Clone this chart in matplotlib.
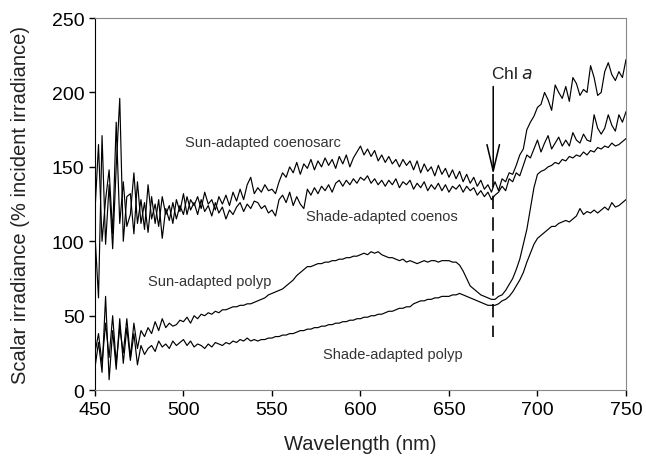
# Scalar irradiance spectra of sun- and shade-adapted coral tissue

import numpy as np
import matplotlib
matplotlib.use('Agg')
import matplotlib.pyplot as plt

plt.rcParams['font.family'] = ['Liberation Sans', 'DejaVu Sans']

# wavelength grid (nm), 2 nm steps
wavelength = np.arange(450, 751, 2)

# Sun-adapted coenosarc (% incident irradiance), one row per 10 nm
sun_coenosarc = [
    120, 165, 100, 128, 148, 105, 180, 112, 140, 110,   # 450-468
    118, 146, 112, 128, 108, 138, 115, 125, 110, 130,   # 470-488
    118, 124, 112, 128, 120, 132, 118, 128, 124, 130,   # 490-508
    122, 133, 125, 128, 121, 130, 125, 131, 124, 133,   # 510-528
    127, 135, 128, 138, 143, 132,                       # 530-540
    136, 133, 138, 134, 135, 132, 140, 146, 143, 150,   # 542-560
    146, 153, 145, 152, 149, 155, 148, 154, 150, 156,   # 562-580
    151, 155, 149, 157, 152, 158, 150, 156, 160, 164,   # 582-600
    158, 162, 157, 161, 154, 158, 153, 157, 152, 155,   # 602-620
    150, 155, 151, 154, 148, 154, 146, 152, 147, 150,   # 622-640
    144, 151, 145, 149, 143, 148, 142, 147, 140, 145,   # 642-660
    139, 143, 137, 141, 135, 138, 133, 140, 134, 142,   # 662-680
    140, 146, 145, 151, 158, 162, 175, 180, 184, 190,   # 682-700
    192, 200, 195, 188, 205, 200, 196, 204, 194, 210,   # 702-720
    206, 198, 202, 200, 218, 210, 198, 200, 214, 220,   # 722-740
    212, 208, 214, 210, 222,                            # 742-750
]

# Shade-adapted coenosarc
shade_coenosarc = [
    105, 62, 171, 98, 138, 95, 150, 196, 100, 130,      # 450-468
    132, 105, 140, 112, 126, 106, 130, 112, 128, 102,   # 470-488
    122, 114, 126, 115, 124, 118, 130, 121, 126, 118,   # 490-508
    128, 120, 124, 117, 126, 119, 123, 115, 121, 118,   # 510-528
    123, 126, 120, 125, 122, 127,                       # 530-540
    126, 122, 124, 119, 121, 117, 128, 131, 126, 133,   # 542-560
    124, 130, 125, 122, 135, 131, 136, 132, 137, 134,   # 562-580
    138, 133, 139, 141, 137, 141, 138, 142, 139, 143,   # 582-600
    141, 144, 139, 142, 138, 141, 137, 141, 138, 142,   # 602-620
    136, 140, 138, 141, 135, 139, 136, 140, 134, 138,   # 622-640
    135, 139, 134, 138, 133, 137, 135, 138, 133, 137,   # 642-660
    134, 136, 131, 134, 130, 133, 128, 131, 133, 137,   # 662-680
    134, 142, 140, 146, 144, 151, 158, 156, 162, 168,   # 682-700
    160, 166, 171, 162, 166, 170, 164, 168, 164, 173,   # 702-720
    168, 166, 172, 168, 167, 185, 176, 172, 176, 185,   # 722-740
    178, 174, 185, 180, 187,                            # 742-750
]

# Sun-adapted polyp
sun_polyp = [
    25, 38, 18, 45, 22, 50, 18, 42, 25, 48,             # 450-468
    22, 45, 28, 40, 36, 42, 38, 46, 40, 48,             # 470-488
    42, 45, 43, 44, 47, 46, 49, 45, 50, 48,             # 490-508
    51, 50, 52, 51, 53, 52, 54, 54, 55, 56,             # 510-528
    56, 57, 57, 58, 58, 59,                             # 530-540
    60, 61, 62, 64, 65, 66, 67, 68, 70, 72,             # 542-560
    74, 77, 79, 81, 83, 83, 84, 85, 85, 86,             # 562-580
    86, 87, 87, 88, 88, 89, 89, 90, 90, 91,             # 582-600
    92, 91, 93, 92, 93, 91, 90, 89, 89, 88,             # 602-620
    87, 88, 86, 87, 86, 85, 86, 87, 86, 87,             # 622-640
    87, 86, 87, 87, 87, 86, 86, 84, 80, 75,             # 642-660
    70, 68, 66, 64, 63, 62, 61, 61, 63, 64,             # 662-680
    67, 71, 75, 81, 88, 98, 108, 122, 136, 145,         # 682-700
    147, 148, 150, 151, 153, 152, 155, 154, 157, 156,   # 702-720
    158, 157, 160, 158, 161, 160, 163, 162, 164, 163,   # 722-740
    166, 164, 165, 167, 169,                            # 742-750
]

# Shade-adapted polyp
shade_polyp = [
    15, 32, 12, 63, 7, 40, 14, 48, 18, 42,              # 450-468
    20, 38, 17, 30, 24, 28, 30, 26, 33, 29,             # 470-488
    31, 28, 33, 30, 32, 34, 30, 33, 29, 31,             # 490-508
    30, 28, 31, 29, 32, 31, 30, 32, 31, 33,             # 510-528
    32, 34, 33, 35, 33, 34,                             # 530-540
    33, 34, 34, 35, 35, 36, 36, 37, 37, 38,             # 542-560
    38, 39, 40, 40, 41, 41, 42, 42, 43, 43,             # 562-580
    44, 44, 45, 45, 46, 46, 47, 47, 48, 48,             # 582-600
    49, 49, 50, 50, 51, 51, 52, 53, 53, 54,             # 602-620
    55, 55, 56, 56, 58, 59, 60, 60, 61, 61,             # 622-640
    62, 62, 63, 63, 63, 64, 64, 65, 64, 63,             # 642-660
    62, 61, 60, 59, 58, 57, 57, 57, 58, 60,             # 662-680
    61, 63, 66, 70, 74, 79, 86, 92, 98, 102,            # 682-700
    104, 106, 108, 110, 110, 112, 113, 114, 113, 115,   # 702-720
    117, 122, 118, 120, 119, 121, 119, 121, 123, 121,   # 722-740
    126, 123, 124, 126, 128,                            # 742-750
]

labels = ['Sun-adapted coenosarc', 'Shade-adapted coenos',
          'Sun-adapted polyp', 'Shade-adapted polyp']
label_pos = [(545, 167), (612, 117), (515, 73), (618, 24)]

chl_a = 675  # nm

fig = plt.figure(figsize=(6.46, 4.64), dpi=100)
ax = fig.add_axes([0.147, 0.157, 0.822, 0.802])

for series in [sun_coenosarc, shade_coenosarc, sun_polyp, shade_polyp]:
    ax.plot(wavelength, series, color='black', lw=0.85)

for text, (x, y) in zip(labels, label_pos):
    ax.text(x, y, text, ha='center', va='center', fontsize=10.5, color='#333333')

# Chl a marker: arrow + dashed line
ax.annotate('', xy=(chl_a, 145), xytext=(chl_a, 204),
            arrowprops=dict(arrowstyle='->,head_length=1.9,head_width=0.45',
                            lw=1.1, color='black', shrinkA=0, shrinkB=0))
ax.plot([chl_a, chl_a], [145, 36], color='black', lw=1.2, ls=(0, (8, 5)))
ax.text(686, 213, 'Chl $\\it{a}$', ha='center', va='center', fontsize=12.5, color='#222222')

ax.set_xlim(450, 750)
ax.set_ylim(0, 250)
ax.set_xticks(range(450, 751, 50))
ax.set_yticks(range(0, 251, 50))
ax.tick_params(labelsize=14, direction='out', length=4, width=1)

for side in ['top', 'right', 'bottom']:
    ax.spines[side].set_color('#888888')
ax.spines['left'].set_color('black')

ax.set_xlabel('Wavelength (nm)', fontsize=14.5, labelpad=12, color='#222222')
ax.set_ylabel('Scalar irradiance (% incident irradiance)', fontsize=14.5, labelpad=16,
              color='#222222')

plt.savefig('out.png', dpi=100)
